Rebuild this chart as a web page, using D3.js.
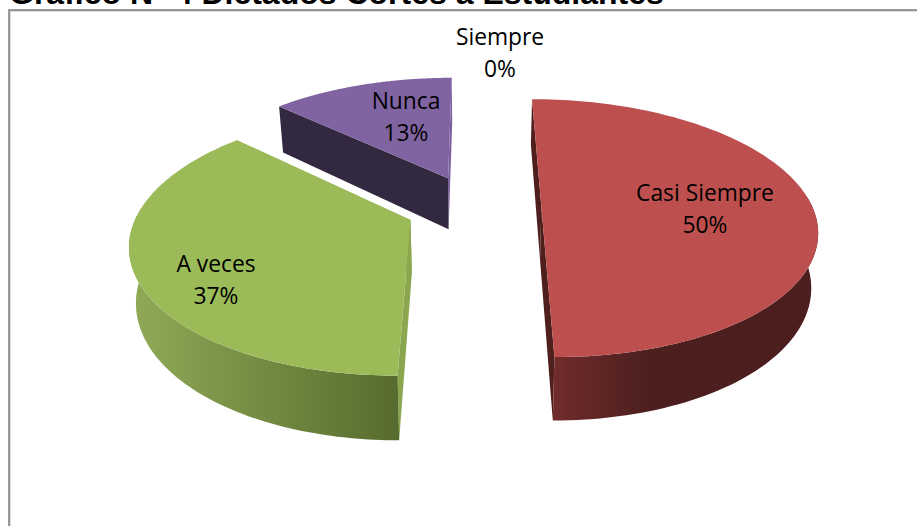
<!DOCTYPE html>
<html><head><meta charset="utf-8">
<style>html,body{margin:0;padding:0;background:#fff;overflow:hidden}</style>
<script src="https://cdn.jsdelivr.net/npm/d3@7"></script></head>
<body><svg id="c" width="917" height="526"></svg>
<script>
const categories = ["Siempre","Casi Siempre","A veces","Nunca"];
const values = [0,50,37,13];
const percentLabels = ["0%","50%","37%","13%"];
const topColors = ["#4f81bd","#bd504e","#9bbb59","#8064a2"];
const startCutColors = ["#2a4460","#4f1f1e","#8aa64f","#32283f"];
const endCutColors = ["#2a4460","#4f1f1e","#8aa64f","#7a5f9c"];
const wallStops = [
  ["#2a4460","#2a4460"],
  ["#702c2b","#4c1f1e"],
  ["#8fa956","#566b2e"],
  ["#32283f","#32283f"]
];
const wallStopRange = [[0,0],[553,650],[135,400],[280,450]];
const explodeBy = [0.24,0.245,0.255,0.26];
const labelAnchors = [[500,37],[705,193],[216,264],[406,101]];
const titleText = "Gráfico N° 4 Dictados Cortes a Estudiantes";

const W=917,H=526;
const svg=d3.select("#c");
const cx=475,cy=207,rx=271,ry=125.5,persp=0.164,depth=53,shrink=0.00038;

function centerProject(X,V,z){
  const d=1+persp*V;
  const m=1-shrink*z;
  return [cx+rx*X/d*m, cy-ry*V/d+z/d];
}
function project(a,ox,oy,z){
  return centerProject(ox+Math.sin(a),oy+Math.cos(a),z);
}
const line=d3.line();
const pie=d3.pie().sort(null).value(d=>d)(values);
const defs=svg.append("defs");

svg.append("text").attr("x",9).attr("y",4).attr("font-family","Liberation Sans, Arial, sans-serif")
  .attr("font-weight","bold").attr("font-size",32).attr("fill","#000").text(titleText);
svg.append("rect").attr("x",9.2).attr("y",10.2).attr("width",W).attr("height",H)
  .attr("fill","#fff").attr("stroke","#929292").attr("stroke-width",2.2);

const drawOrder=[3,1,2];
drawOrder.forEach(i=>{
  const s=pie[i];
  const mid=(s.startAngle+s.endAngle)/2;
  const ox=explodeBy[i]*Math.sin(mid),oy=explodeBy[i]*Math.cos(mid);
  const angles=d3.range(0,121).map(t=>s.startAngle+(s.endAngle-s.startAngle)*t/120);
  const rimTop=angles.map(a=>project(a,ox,oy,0));
  const rimBot=angles.map(a=>project(a,ox,oy,depth));
  const cTop=centerProject(ox,oy,0),cBot=centerProject(ox,oy,depth);
  const gid="wall"+i;
  const g=defs.append("linearGradient").attr("id",gid).attr("gradientUnits","userSpaceOnUse")
    .attr("x1",wallStopRange[i][0]).attr("x2",wallStopRange[i][1]).attr("y1",0).attr("y2",0);
  g.append("stop").attr("offset",0).attr("stop-color",wallStops[i][0]);
  g.append("stop").attr("offset",1).attr("stop-color",wallStops[i][1]);
  const gs=svg.append("g").attr("class","slice");
  gs.append("path").attr("d",line([cTop,rimTop[120],rimBot[120],cBot])+"Z").attr("fill",endCutColors[i]);
  gs.append("path").attr("d",line([cTop,rimTop[0],rimBot[0],cBot])+"Z").attr("fill",startCutColors[i]);
  // outer wall: only the part of the rim that faces the viewer
  const facing=angles.map((a,k)=>k).filter(k=>Math.cos(angles[k])<0.1);
  if(facing.length){
    const wt=facing.map(k=>rimTop[k]),wb=facing.map(k=>rimBot[k]).reverse();
    gs.append("path").attr("d",line(wt.concat(wb))+"Z").attr("fill",`url(#${gid})`);
  }
  gs.append("path").attr("d",line([cTop].concat(rimTop))+"Z").attr("fill",topColors[i]);
});

categories.forEach((c,i)=>{
  const t=svg.append("text").attr("text-anchor","middle")
    .attr("font-family","Open Sans, sans-serif").attr("font-size",22.8).attr("fill","#000");
  t.append("tspan").attr("x",labelAnchors[i][0]).attr("y",labelAnchors[i][1]+8).text(c);
  t.append("tspan").attr("x",labelAnchors[i][0]).attr("y",labelAnchors[i][1]+40).text(percentLabels[i]);
});
</script></body></html>
